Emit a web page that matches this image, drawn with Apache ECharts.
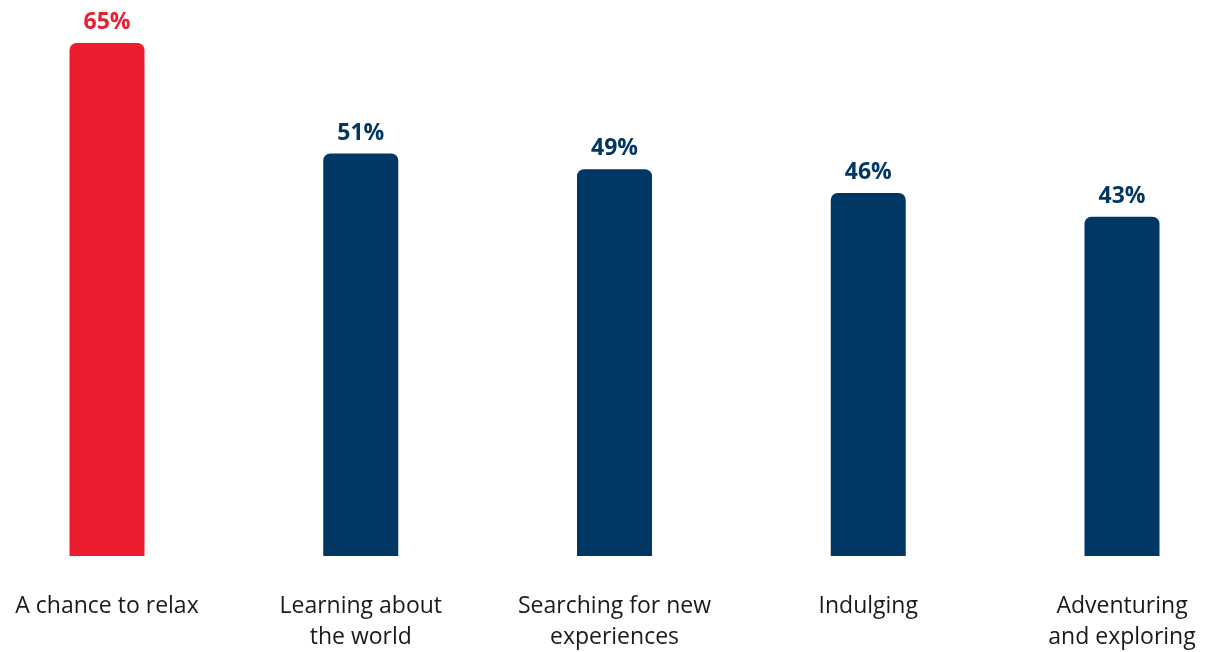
<!DOCTYPE html>
<html><head><meta charset="utf-8">
<script src="https://cdn.jsdelivr.net/npm/echarts@6/dist/echarts.min.js"></script>
<style>html,body{margin:0;padding:0;background:#fff}#c{width:1205px;height:652px}</style>
</head><body><div id="c"></div>
<script>
const categories = ["A chance to relax", "Learning about\nthe world", "Searching for new\nexperiences", "Indulging", "Adventuring\nand exploring"];
const values = [65, 51, 49, 46, 43];
const barColors = ["#ED1C2E", "#003764", "#003764", "#003764", "#003764"];

const chart = echarts.init(document.getElementById('c'));
chart.setOption({
  animation: false,
  grid: { left: 107, right: 83, top: 43, bottom: 96, containLabel: false, outerBoundsMode: 'none' },
  xAxis: {
    type: 'category', data: categories, boundaryGap: false,
    axisLine: { show: false }, axisTick: { show: false }, splitLine: { show: false },
    axisLabel: { color: '#1a1a1a', fontFamily: 'Open Sans', fontSize: 23, lineHeight: 31, margin: 35, interval: 0 }
  },
  yAxis: { type: 'value', min: 0, max: 65, show: false, splitLine: { show: false } },
  series: [{
    type: 'bar', barWidth: 75,
    data: values.map((v, i) => ({ value: v, itemStyle: { color: barColors[i] }, label: { color: barColors[i] } })),
    itemStyle: { borderRadius: [7, 7, 0, 0] },
    label: { show: true, position: 'top', distance: 9, formatter: '{c}%', fontFamily: 'Open Sans', fontWeight: 'bold', fontSize: 23 }
  }]
});
</script></body></html>
